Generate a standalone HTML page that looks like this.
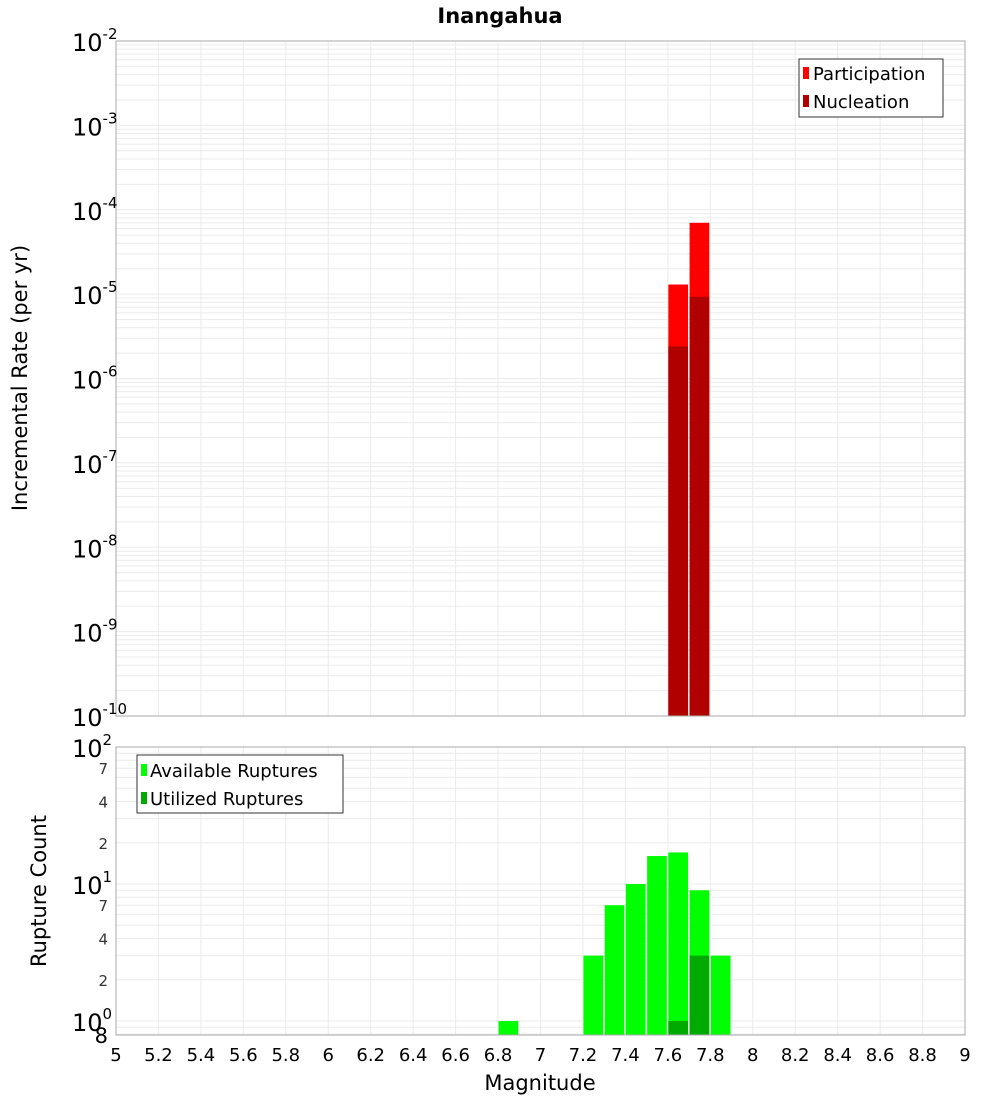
<!DOCTYPE html>
<html><head><meta charset="utf-8"><style>
body{margin:0;background:#fff;}
svg{font-family:"DejaVu Sans","Liberation Sans",sans-serif;display:block}
</style></head><body>
<svg id="chart" width="1000" height="1100">
<g id="gtop"></g><g id="gbot"></g>
<text x="500" y="23" text-anchor="middle" font-size="21" font-weight="bold">Inangahua</text>
<text transform="translate(27,378) rotate(-90)" text-anchor="middle" font-size="21">Incremental Rate (per yr)</text>
<text transform="translate(46,891) rotate(-90)" text-anchor="middle" font-size="21">Rupture Count</text>
<text x="540" y="1090" text-anchor="middle" font-size="21">Magnitude</text>
<g>
<rect x="799" y="59" width="144" height="58" fill="#fff" stroke="#333"/>
<rect x="803" y="67" width="6" height="12" fill="#ff0000"/>
<text x="813" y="80" font-size="18">Participation</text>
<rect x="803" y="95" width="6" height="12" fill="#b00000"/>
<text x="813" y="108" font-size="18">Nucleation</text>
</g>
<g>
<rect x="137" y="755" width="206" height="58" fill="#fff" stroke="#333"/>
<rect x="141" y="764" width="6" height="12" fill="#00ff00"/>
<text x="150" y="777" font-size="18">Available Ruptures</text>
<rect x="141" y="792" width="6" height="12" fill="#00aa00"/>
<text x="150" y="805" font-size="18">Utilized Ruptures</text>
</g>
</svg>
<script>
const binCenters=[6.85,7.25,7.35,7.45,7.55,7.65,7.75,7.85];
const available=[1,3,7,10,16,17,9,3];
const utilCenters=[7.65,7.75];
const utilized=[1,3];
const rateCenters=[7.65,7.75];
const participation=[1.3e-5,7e-5];
const nucleation=[2.4e-6,9.3e-6];
const xTicks=[5,5.2,5.4,5.6,5.8,6,6.2,6.4,6.6,6.8,7,7.2,7.4,7.6,7.8,8,8.2,8.4,8.6,8.8,9];
const topExps=[-2,-3,-4,-5,-6,-7,-8,-9,-10];
const botMinor=[2,4,7,20,40,70];

const NS="http://www.w3.org/2000/svg";
const X0=116,X1=965;
const xs=m=>X0+(m-5)/4*(X1-X0);
const TY0=41,TY1=716;
const ty=v=>TY0+(-2-Math.log10(v))*(TY1-TY0)/8;
const BY0=747,BDEC=137;
const by=v=>BY0+(2-Math.log10(v))*BDEC;
const BY1=1035;
function mk(p,t,a){const e=document.createElementNS(NS,t);for(const k in a)e.setAttribute(k,a[k]);p.appendChild(e);return e;}
const gTop=document.getElementById('gtop'),gBot=document.getElementById('gbot');
for(let e=-10;e<-2;e++)for(let k=1;k<10;k++){const y=ty(k*Math.pow(10,e));const l=mk(gTop,'line',{x1:X0,x2:X1,y1:y,y2:y,stroke:'#ebebeb','stroke-width':1});

}
xTicks.forEach(t=>{const l=mk(gTop,'line',{x1:xs(t),x2:xs(t),y1:TY0,y2:TY1,stroke:'#ebebeb'});

});
for(let e=-1;e<2;e++)for(let k=1;k<10;k++){const v=k*Math.pow(10,e);if(v<0.8)continue;const y=by(v);const l=mk(gBot,'line',{x1:X0,x2:X1,y1:y,y2:y,stroke:'#ebebeb'});

}
xTicks.forEach(t=>{const l=mk(gBot,'line',{x1:xs(t),x2:xs(t),y1:BY0,y2:BY1,stroke:'#ebebeb'});

});
rateCenters.forEach((c,i)=>{
const x=xs(c-0.05)+0.5,w=xs(c+0.05)-xs(c-0.05)-1.5;
const p=mk(gTop,'rect',{x:x,y:ty(participation[i]),width:w,height:TY1-ty(participation[i]),fill:'#ff0000'});


const n=mk(gTop,'rect',{x:x,y:ty(nucleation[i]),width:w,height:TY1-ty(nucleation[i]),fill:'#b00000'});

});
binCenters.forEach((c,i)=>{
const x=xs(c-0.05)+0.5,w=xs(c+0.05)-xs(c-0.05)-1.5;
const r=mk(gBot,'rect',{x:x,y:by(available[i]),width:w,height:BY1-by(available[i]),fill:'#00ff00'});

});
utilCenters.forEach((c,i)=>{
const x=xs(c-0.05)+0.5,w=xs(c+0.05)-xs(c-0.05)-1.5;
const r=mk(gBot,'rect',{x:x,y:by(utilized[i]),width:w,height:BY1-by(utilized[i]),fill:'#00aa00'});

});
const f1=mk(gTop,'rect',{x:X0,y:TY0,width:X1-X0,height:TY1-TY0,fill:'none',stroke:'#aaa'});


const f2=mk(gBot,'rect',{x:X0,y:BY0,width:X1-X0,height:BY1-BY0,fill:'none',stroke:'#aaa'});


topExps.forEach(e=>{const y=ty(Math.pow(10,e));
const t=mk(gTop,'text',{x:72,y:y+10,'font-size':24});


t.textContent='10';
const s=mk(t,'tspan',{dy:-12,'font-size':15});s.textContent=String(e);});
[2,1,0].forEach(e=>{const y=by(Math.pow(10,e));
const t=mk(gBot,'text',{x:72,y:y+10,'font-size':24});


t.textContent='10';
const s=mk(t,'tspan',{dy:-12,'font-size':15});s.textContent=String(e);});
botMinor.forEach(v=>{const t=mk(gBot,'text',{x:108,y:by(v)+6,'font-size':15,'text-anchor':'end',fill:'#333'});


t.textContent=String(v>=10?v/10:v);});
const e8=mk(gBot,'text',{x:108,y:BY1+8,'font-size':21,'text-anchor':'end'});


e8.textContent='8';
xTicks.forEach(t=>{const e=mk(gBot,'text',{x:xs(t),y:1061,'font-size':18,'text-anchor':'middle'});


e.textContent=String(t);});
</script>
</body></html>
